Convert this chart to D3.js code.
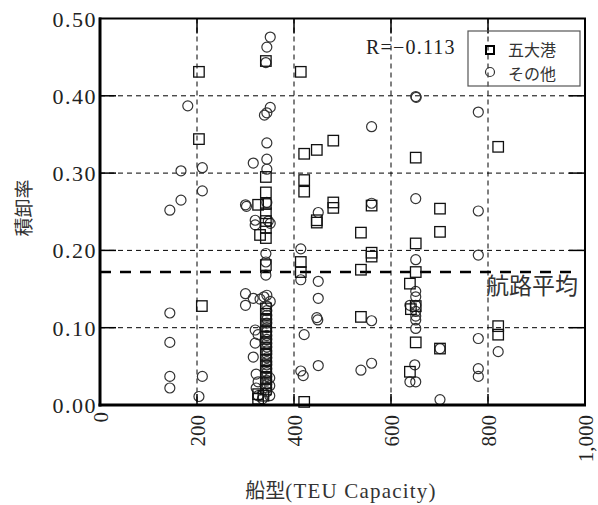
<!DOCTYPE html>
<html><head><meta charset="utf-8">
<script src="https://cdn.jsdelivr.net/npm/d3@7"></script>
<style>
body { margin: 0; background: #fff; }
.serif { font-family: "Liberation Serif", "DejaVu Serif", "Times New Roman", serif; }
.cjk { font-family: "Noto Sans CJK JP", "Noto Sans CJK SC", sans-serif; }
</style>
</head><body>
<svg id="chart" width="598" height="505"></svg>
<script>
// Axis ticks and reference values
const xTicks = [0, 200, 400, 600, 800, 1000];
const yTicks = [0, 0.1, 0.2, 0.3, 0.4, 0.5];
const routeMean = 0.172;
const routeMeanLabel = "航路平均";
const rLabel = "R=−0.113";
const seriesNames = ["五大港", "その他"];
const xTitleJa = "船型";
const xTitleEn = "(TEU Capacity)";
const yTitle = "積卸率";

// 五大港 (squares): ship capacity (TEU) and loading/unloading rate
const portCap = [204, 204, 210, 342, 342, 342, 326, 342, 342, 342, 342, 330, 342, 342, 326, 337, 326,
  342, 342, 342, 342, 342, 342, 342, 342, 342, 342, 342, 342, 342, 342, 342,
  414, 481, 447, 421, 421, 421, 481, 481, 447, 447, 560, 538, 414, 414, 560, 560, 538, 538, 421,
  651, 701, 701, 651, 651, 639, 641, 651, 651, 701, 639, 821, 821, 821];
const portRate = [0.431, 0.344, 0.128, 0.445, 0.295, 0.275, 0.259, 0.260, 0.248, 0.238, 0.229, 0.220, 0.216, 0.181, 0.014, 0.012, 0.008,
  0.125, 0.118, 0.110, 0.102, 0.095, 0.088, 0.080, 0.072, 0.065, 0.058, 0.050, 0.043, 0.035, 0.028, 0.020,
  0.431, 0.342, 0.330, 0.325, 0.291, 0.276, 0.262, 0.255, 0.239, 0.236, 0.258, 0.223, 0.185, 0.172, 0.192, 0.197, 0.175, 0.114, 0.004,
  0.320, 0.254, 0.224, 0.209, 0.172, 0.157, 0.124, 0.128, 0.081, 0.073, 0.043, 0.334, 0.102, 0.091];

// その他 (circles)
const otherCap = [181, 167, 211, 211, 167, 144, 144, 144, 144, 144, 211, 204,
  351, 344, 342, 351, 344, 339, 344, 316, 344, 344, 300, 302, 344, 320, 320, 351, 347, 342, 342, 342,
  300, 300, 316, 330, 344, 351, 338, 320, 326, 320, 316,
  344, 344, 344, 344, 344, 344, 344, 344, 344, 344, 344, 344, 344, 344, 344, 344, 344, 344, 344, 344, 344, 344, 344,
  322, 326, 322, 326, 350, 350, 350, 335,
  560, 450, 560, 414, 414, 450, 450, 447, 449, 560, 421, 450, 414, 419, 538, 560,
  651, 652, 780, 651, 780, 780, 651, 651, 651, 651, 639, 651, 651, 651, 651,
  701, 649, 639, 651, 701, 780, 780, 780, 821];
const otherRate = [0.387, 0.303, 0.307, 0.277, 0.265, 0.252, 0.119, 0.081, 0.037, 0.022, 0.037, 0.011,
  0.476, 0.463, 0.443, 0.385, 0.378, 0.375, 0.339, 0.313, 0.318, 0.305, 0.259, 0.257, 0.262, 0.239, 0.233, 0.235, 0.238, 0.196, 0.185, 0.168,
  0.144, 0.129, 0.138, 0.137, 0.142, 0.134, 0.140, 0.097, 0.091, 0.080, 0.062,
  0.128, 0.122, 0.116, 0.111, 0.106, 0.100, 0.095, 0.090, 0.085, 0.080, 0.075, 0.070, 0.066, 0.061, 0.056, 0.052, 0.047, 0.042, 0.037, 0.032, 0.027, 0.022, 0.017,
  0.040, 0.030, 0.022, 0.012, 0.035, 0.025, 0.012, 0.008,
  0.360, 0.249, 0.261, 0.202, 0.162, 0.160, 0.138, 0.113, 0.110, 0.109, 0.091, 0.051, 0.044, 0.038, 0.045, 0.054,
  0.399, 0.398, 0.379, 0.267, 0.251, 0.194, 0.188, 0.147, 0.140, 0.129, 0.129, 0.121, 0.115, 0.110, 0.099,
  0.073, 0.052, 0.030, 0.030, 0.007, 0.086, 0.047, 0.037, 0.069];

const svg = d3.select("#chart");
const L = 100, R = 585, T = 18.5, B = 405;
const x = d3.scaleLinear().domain([0, 1000]).range([L, R]);
const y = d3.scaleLinear().domain([0, 0.5]).range([B, T]);

// dashed grid
const grid = svg.append("g").attr("stroke", "#000").attr("stroke-width", 1).attr("stroke-dasharray", "5,4");
grid.selectAll("line.v").data(xTicks.filter(d => d > 0 && d < 1000)).join("line")
  .attr("x1", d => x(d)).attr("x2", d => x(d)).attr("y1", T).attr("y2", B);
grid.selectAll("line.h").data(yTicks.filter(d => d > 0 && d < 0.5)).join("line")
  .attr("x1", L).attr("x2", R).attr("y1", d => y(d)).attr("y2", d => y(d));

// route average line
svg.append("line").attr("x1", L).attr("x2", R - 6).attr("y1", y(routeMean)).attr("y2", y(routeMean))
  .attr("stroke", "#000").attr("stroke-width", 2.6).attr("stroke-dasharray", "11,9");
svg.append("text").attr("class", "cjk").attr("x", 578).attr("y", y(routeMean) + 22).attr("text-anchor", "end")
  .style("font-size", "23px").attr("fill", "#333").text(routeMeanLabel);

// markers
const others = otherCap.map((c, i) => ({c, r: otherRate[i]}));
const ports = portCap.map((c, i) => ({c, r: portRate[i]}));
svg.append("g").selectAll("circle").data(others).join("circle")
  .attr("cx", d => x(d.c)).attr("cy", d => y(d.r)).attr("r", 5)
  .attr("fill", "none").attr("stroke", "#333").attr("stroke-width", 1.2);
const sq = 10.5;
svg.append("g").selectAll("rect").data(ports).join("rect")
  .attr("x", d => x(d.c) - sq / 2).attr("y", d => y(d.r) - sq / 2).attr("width", sq).attr("height", sq)
  .attr("fill", "none").attr("stroke", "#111").attr("stroke-width", 1.3);

// frame and inward ticks
svg.append("rect").attr("x", L).attr("y", T).attr("width", R - L).attr("height", B - T)
  .attr("fill", "none").attr("stroke", "#000").attr("stroke-width", 2);
svg.append("line").attr("x1", L).attr("x2", L).attr("y1", T - 1).attr("y2", B + 1.5).attr("stroke", "#000").attr("stroke-width", 3);
svg.append("line").attr("x1", L - 1.5).attr("x2", R + 1).attr("y1", B).attr("y2", B).attr("stroke", "#000").attr("stroke-width", 3);
const tk = svg.append("g").attr("stroke", "#000").attr("stroke-width", 1.5);
yTicks.filter(d => d > 0 && d < 0.5).forEach(d => {
  tk.append("line").attr("x1", L).attr("x2", L + 16).attr("y1", y(d)).attr("y2", y(d));
  tk.append("line").attr("x1", R).attr("x2", R - 16).attr("y1", y(d)).attr("y2", y(d));
});
xTicks.filter(d => d > 0 && d < 1000).forEach(d => {
  tk.append("line").attr("x1", x(d)).attr("x2", x(d)).attr("y1", T).attr("y2", T + 15);
  tk.append("line").attr("x1", x(d)).attr("x2", x(d)).attr("y1", B).attr("y2", B - 11);
});

// tick labels
const fy = d3.format(".2f"), fx = d3.format(",");
svg.append("g").selectAll("text").data(yTicks).join("text")
  .attr("class", "serif")
  .attr("x", 97).attr("y", d => y(d) + 8).attr("text-anchor", "end")
  .style("font-size", "22px").style("letter-spacing", "1.5px")
  .attr("fill", "#222").text(d => fy(d));
svg.append("g").selectAll("text").data(xTicks).join("text")
  .attr("class", "serif")
  .attr("transform", d => `translate(${x(d) + 8},${d === 0 ? 412 : 415}) rotate(-90)`)
  .attr("text-anchor", "end")
  .style("font-size", "21px").attr("fill", "#222").text(d => fx(d));

// axis titles
const xt = svg.append("text").attr("x", 341).attr("y", 498).attr("text-anchor", "middle").attr("fill", "#333");
xt.append("tspan").attr("class", "cjk").style("font-size", "20px").text(xTitleJa);
xt.append("tspan").attr("class", "serif").style("font-size", "21px").style("letter-spacing", "1.2px").text(xTitleEn);
svg.append("text").attr("class", "cjk").attr("transform", "translate(31,208) rotate(-90)").attr("text-anchor", "middle")
  .style("font-size", "19px").attr("fill", "#333").text(yTitle);

// correlation label
svg.append("text").attr("class", "serif").attr("x", 366).attr("y", 54)
  .style("font-size", "20px").style("letter-spacing", "1.2px").attr("fill", "#222").text(rLabel);

// legend
const lg = svg.append("g");
lg.append("rect").attr("x", 468).attr("y", 31).attr("width", 112).attr("height", 55)
  .attr("fill", "none").attr("stroke", "#555").attr("stroke-width", 1.2);
lg.append("rect").attr("x", 486).attr("y", 46).attr("width", 8).attr("height", 8)
  .attr("fill", "none").attr("stroke", "#000").attr("stroke-width", 2);
lg.append("circle").attr("cx", 490).attr("cy", 72).attr("r", 4.5)
  .attr("fill", "none").attr("stroke", "#333").attr("stroke-width", 1.2);
lg.selectAll("text").data(seriesNames).join("text")
  .attr("class", "cjk")
  .attr("x", 508).attr("y", (d, i) => 56 + i * 23.5)
  .style("font-size", "16px").attr("fill", "#333").text(d => d);
</script>
</body></html>
